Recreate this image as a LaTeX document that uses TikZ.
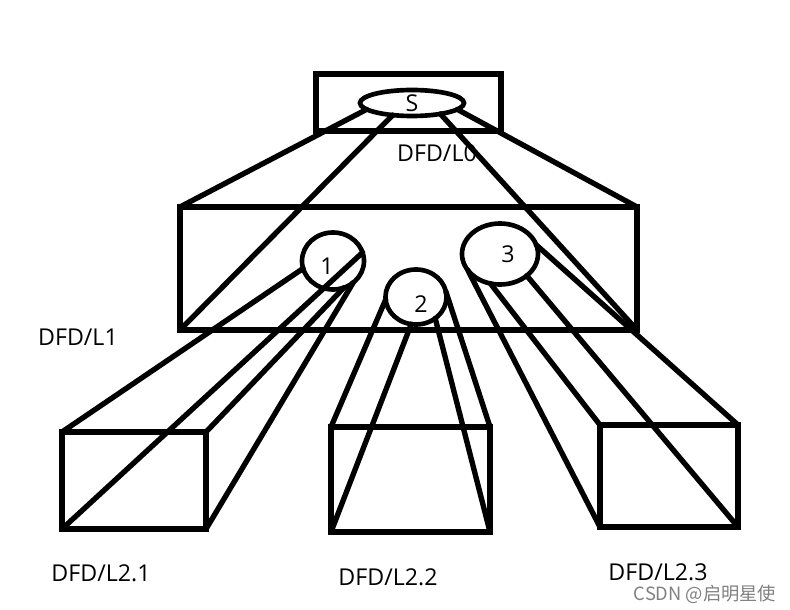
\documentclass[tikz,border=0pt]{standalone}
\usepackage{fontspec}
\setmainfont{Open Sans}
\newfontfamily\cjkfont{Noto Sans CJK SC}
\usepackage{tikz}
\usetikzlibrary{shapes.geometric}

\begin{document}
\begin{tikzpicture}[x=0.025cm,y=-0.025cm,line width=3.8pt,line cap=round,
  font=\fontsize{16.5}{20}\selectfont,
  box/.style={draw,rectangle,inner sep=0pt,outer sep=0pt},
  bubble/.style={draw,ellipse,inner sep=0pt,outer sep=0pt,line width=3.3pt}]
\useasboundingbox (0,0) rectangle (790,610);
% level 0
\node (l0) [box,minimum width=4.625cm,minimum height=1.425cm] at (408.5,102.5) {};
\node (s) [bubble,minimum width=2.6cm,minimum height=0.65cm] at (412,103) {S};
\node (t0) at (437,153) {DFD/L0};
% level 1
\node (l1) [box,minimum width=11.425cm,minimum height=3.075cm] at (408.5,268.5) {};
\node (c1) [bubble,minimum width=1.55cm,minimum height=1.425cm] at (333,261) {};
\node (c2) [bubble,minimum width=1.525cm,minimum height=1.375cm] at (416,297) {};
\node (c3) [bubble,minimum width=1.9cm,minimum height=1.525cm] at (500,254) {};
\node (n1) at (327,266) {1};
\node (n2) at (421,304) {2};
\node (n3) at (508,254) {3};
\node (t1) at (78,337) {DFD/L1};
% level 2
\node (l21) [box,minimum width=3.6cm,minimum height=2.425cm] at (134,480.5) {};
\node (l22) [box,minimum width=3.975cm,minimum height=2.625cm] at (410.5,479.5) {};
\node (l23) [box,minimum width=3.45cm,minimum height=2.55cm] at (669,476) {};
\node (t21) at (101,573) {DFD/L2.1};
\node (t22) at (388,577) {DFD/L2.2};
\node (t23) at (658,572) {DFD/L2.3};
% S -> L1
\draw (s.188) -- (l1.north west);
\draw (s.212) -- (l1.south west);
\draw (s.339) -- (l1.south east);
\draw (s.352) -- (l1.north east);
% 1 -> L2.1
\draw (c1.194) -- (l21.north west);
\draw (c1.16) -- (l21.south west);
\draw (c1.292) -- (l21.north east);
\draw (c1.313) -- (l21.south east);
% 2 -> L2.2
\draw (c2.185) -- (l22.north west);
\draw (c2.260) -- (l22.south west);
\draw (c2.312) -- (l22.south east);
\draw (c2.10) -- (l22.north east);
% 3 -> L2.3
\draw (c3.207) -- (l23.south west);
\draw (c3.252) -- (l23.north west);
\draw (c3.321) -- (l23.south east);
\draw (c3.14) -- (l23.north east);
\node (wm) [text=gray,font=\cjkfont\fontsize{13}{15}\selectfont] at (705,594) {CSDN @启明星使};
\end{tikzpicture}
\end{document}
